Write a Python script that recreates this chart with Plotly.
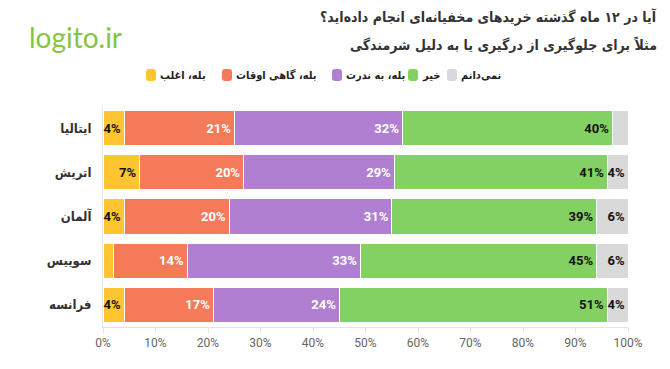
import plotly.graph_objects as go

countries = ["ایتالیا", "اتریش", "آلمان", "سوییس", "فرانسه"]
series_names = ["بله، اغلب", "بله، گاهی اوقات", "بله، به ندرت", "خیر", "نمی‌دانم"]
often = [4, 7, 4, 2, 4]
sometimes = [21, 20, 20, 14, 17]
rarely = [32, 29, 31, 33, 24]
no = [40, 41, 39, 45, 51]
dont_know = [3, 4, 6, 6, 4]
show_often_label = [True, True, True, False, True]
show_dont_know_label = [False, True, True, True, True]
colors = ["#FDC530", "#F57A59", "#B07FD2", "#84D163", "#D9D9D9"]
text_colors = ["#111111", "#ffffff", "#ffffff", "#111111", "#111111"]
x_ticks = [0, 10, 20, 30, 40, 50, 60, 70, 80, 90, 100]
x_tick_text = [f"{t}%" for t in x_ticks]

title_lines = ["آیا در ۱۲ ماه گذشته خریدهای مخفیانه‌ای انجام داده‌اید؟\u200f",
               "مثلاً برای جلوگیری از درگیری یا به دلیل شرمندگی"]

FA = "DejaVu Sans Condensed"
OFF = 8  # page body margin of the browser
W, H = 670 - OFF, 369 - OFF
# target plot box in window pixels
PL, PR, PT, PB = 103, 628, 106, 327
ML, MT = PL - OFF, PT - OFF
MR, MB = W - (PR - OFF), H - (PB - OFF)
PW, PH = PR - PL, PB - PT


def px_x(px):
    return (px - PL) / PW


def px_y(py):
    return 1 + (PT - py) / PH


values = [often, sometimes, rarely, no, dont_know]
masks = [show_often_label, [True] * 5, [True] * 5, [True] * 5, show_dont_know_label]

fig = go.Figure()
for name, vals, mask, col, tcol in zip(series_names, values, masks, colors, text_colors):
    fig.add_trace(go.Bar(
        y=countries, x=vals, name=name, orientation="h",
        marker=dict(color=col, line=dict(color="white", width=1)),
        text=[f"{v}%" if m else "" for v, m in zip(vals, mask)],
        textposition="inside", insidetextanchor="end", constraintext="none",
        textangle=0,
        textfont=dict(family="Roboto", size=13, color=tcol, weight="bold"),
        hoverinfo="skip", cliponaxis=False, showlegend=False,
    ))

fig.update_layout(
    width=W, height=H,
    barmode="stack", barnorm="percent", bargap=0.2,
    margin=dict(l=ML, r=MR, t=MT, b=MB, autoexpand=False),
    plot_bgcolor="white", paper_bgcolor="white",
    showlegend=False,
    xaxis=dict(range=[0, 100], tickvals=x_ticks, ticktext=x_tick_text, showgrid=False,
               showline=True, linecolor="#e3e3e3", ticks="outside", ticklen=5,
               tickcolor="#e3e3e3", tickfont=dict(family="Roboto", size=12, color="#666"),
               zeroline=False, fixedrange=True, automargin=False),
    yaxis=dict(autorange="reversed", showline=True, linecolor="#e6e6e6", showgrid=False,
               ticks="", ticklabelstandoff=8, automargin=False,
               tickfont=dict(family=FA, size=13, color="#333", weight="bold"),
               fixedrange=True),
)

# custom legend (left to right), square centres in window px
legend_centres = [151, 227, 337, 413, 452]
leg_y = px_y(75)
for name, col, cx in zip(series_names, colors, legend_centres):
    fig.add_shape(type="path", xref="paper", yref="paper", xsizemode="pixel",
                  ysizemode="pixel", xanchor=px_x(cx), yanchor=leg_y,
                  path="M -5,-3 Q -5,-6 -2,-6 L 2,-6 Q 5,-6 5,-3 L 5,3 Q 5,6 2,6 "
                       "L -2,6 Q -5,6 -5,3 Z",
                  fillcolor=col, line=dict(width=0))
    fig.add_annotation(text=name, xref="paper", yref="paper", x=px_x(cx + 7), y=leg_y,
                       xanchor="left", yanchor="middle", showarrow=False,
                       font=dict(family=FA, size=11, color="#222", weight="bold"))

fig.add_annotation(text=title_lines[0], xref="paper", yref="paper", x=px_x(659), y=px_y(17),
                   xanchor="right", yanchor="middle", showarrow=False,
                   font=dict(family=FA, size=14, color="#333", weight="bold"))
fig.add_annotation(text=title_lines[1], xref="paper", yref="paper", x=px_x(659), y=px_y(45),
                   xanchor="right", yanchor="middle", showarrow=False,
                   font=dict(family=FA, size=14, color="#333", weight="bold"))
fig.add_annotation(text="logito.ir", xref="paper", yref="paper", x=px_x(27), y=px_y(37),
                   xanchor="left", yanchor="middle", showarrow=False,
                   font=dict(family="Lato", size=28, color="#86C441", weight=400))

fig.write_html("out.html")
